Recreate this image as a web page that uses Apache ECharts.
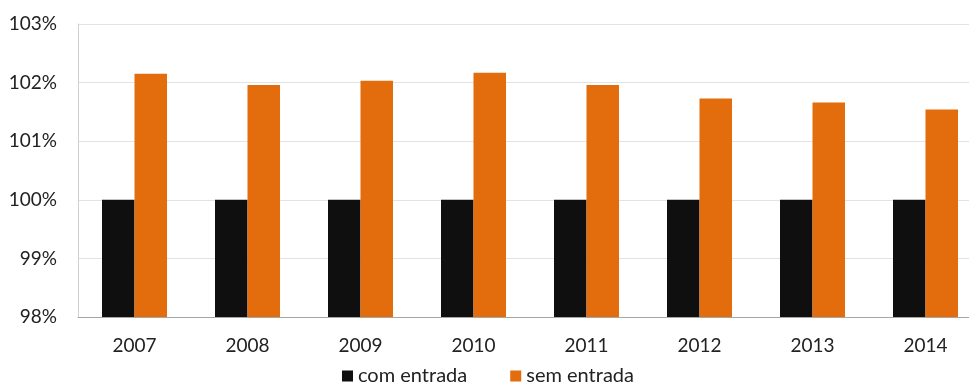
<!DOCTYPE html>
<html>
<head>
<meta charset="utf-8">
<script src="https://cdn.jsdelivr.net/npm/echarts@6/dist/echarts.min.js"></script>
<style>
  html, body { margin: 0; padding: 0; background: #fff; overflow: hidden; }
  #wrap { width: 969px; height: 383px; overflow: hidden; }
  #chart { width: 982px; height: 383px; }
</style>
</head>
<body>
<div id="wrap"><div id="chart"></div></div>
<script>
// Years on the category axis
const years = ['2007', '2008', '2009', '2010', '2011', '2012', '2013', '2014'];
// Index values (percent) for each scenario
const comEntrada = [100, 100, 100, 100, 100, 100, 100, 100];
const semEntrada = [102.15, 101.96, 102.03, 102.17, 101.96, 101.73, 101.66, 101.54];
// Value axis range and step (percent)
const yMin = 98;
const yMax = 103;
const yStep = 1;

const chart = echarts.init(document.getElementById('chart'));
const font = 'Lato, "Liberation Sans", sans-serif';

chart.setOption({
  animation: false,
  grid: { left: 78, top: 24, bottom: 66, right: 0, containLabel: false },
  legend: {
    left: 337,
    top: 361,
    itemWidth: 11,
    itemHeight: 11,
    itemGap: 43,
    icon: 'rect',
    textStyle: { fontFamily: font, fontSize: 20, color: '#222', letterSpacing: 0.5 },
    data: ['com entrada', 'sem entrada']
  },
  xAxis: {
    type: 'category',
    data: years,
    axisLine: { show: true, lineStyle: { color: '#a6a6a6', width: 1 } },
    axisTick: { show: false },
    axisLabel: { fontFamily: font, fontSize: 19, color: '#222', margin: 19 }
  },
  yAxis: {
    type: 'value',
    min: yMin,
    max: yMax,
    interval: yStep,
    axisLine: { show: true, lineStyle: { color: '#d0d0d0', width: 1 } },
    axisTick: { show: false },
    splitLine: { show: true, lineStyle: { color: '#e3e3e3', width: 1 } },
    axisLabel: {
      fontFamily: font, fontSize: 19, color: '#222', margin: 21,
      formatter: v => v + '%'
    }
  },
  series: [
    {
      name: 'com entrada',
      type: 'bar',
      data: comEntrada,
      barWidth: 32.5,
      barGap: '0%',
      itemStyle: { color: '#0f0f0f' }
    },
    {
      name: 'sem entrada',
      type: 'bar',
      data: semEntrada,
      barWidth: 32.5,
      barGap: '0%',
      itemStyle: { color: '#e36c0c' }
    }
  ]
});
</script>
</body>
</html>
